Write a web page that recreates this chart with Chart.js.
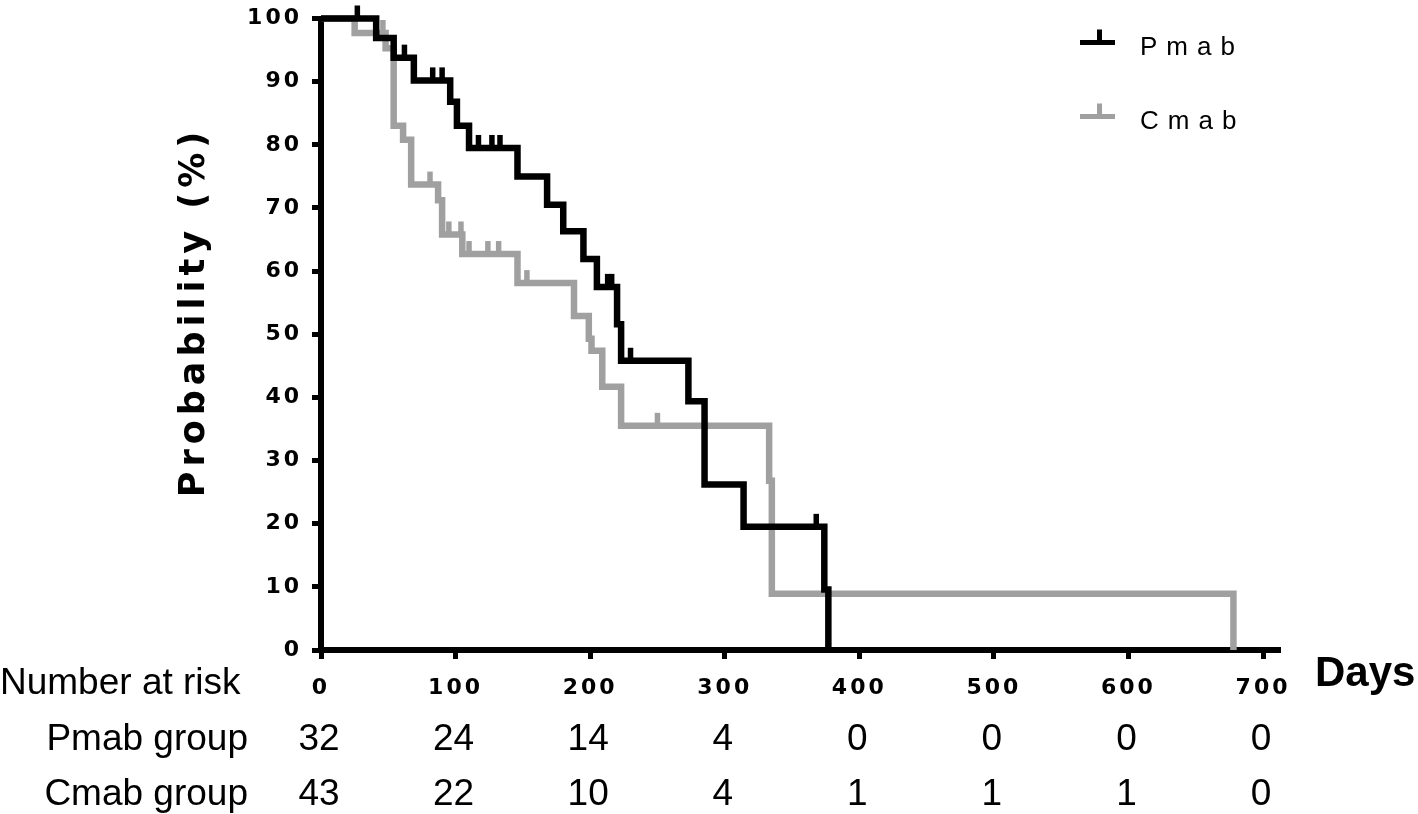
<!DOCTYPE html>
<html>
<head>
<meta charset="utf-8">
<script src="https://cdn.jsdelivr.net/npm/chart.js@4.4.1/dist/chart.umd.min.js"></script>
<style>
  html, body { margin: 0; padding: 0; background: #fff; overflow: hidden; }
  #wrap { width: 1418px; height: 814px; }
</style>
</head>
<body>
<div id="wrap"><canvas id="km" width="1418" height="814"></canvas></div>
<script>
// Pmab: ngày xảy ra bước giảm và xác suất (%) sau bước đó
const pmabDays = [0, 41, 54, 69, 96, 101, 110, 146, 168, 180, 195, 205, 220, 223, 273, 285, 314, 374, 377];
const pmabSurv = [100, 96.9, 93.8, 90.2, 86.8, 83.0, 79.5, 75.0, 70.5, 66.3, 61.9, 57.5, 51.6, 45.8, 39.4, 26.2, 19.5, 9.6, 0];
// Pmab: các điểm kiểm duyệt (censored)
const pmabCensorDays = [27, 62, 83, 90, 117, 127, 133, 213, 216, 230, 368];
const pmabCensorSurv = [100, 93.8, 90.2, 90.2, 79.5, 79.5, 79.5, 57.5, 57.5, 45.8, 19.5];

// Cmab
const cmabDays = [0, 25, 48, 54, 61, 67, 87, 90, 105, 146, 188, 199, 201, 209, 223, 333, 335, 678];
const cmabSurv = [100, 97.7, 95.3, 83.0, 80.8, 73.7, 71.2, 65.8, 62.7, 58.1, 52.9, 49.3, 47.4, 41.7, 35.5, 26.8, 8.9, 0];
const cmabCensorDays = [46, 81, 95, 104, 110, 124, 132, 153, 250];
const cmabCensorSurv = [97.7, 73.7, 65.8, 65.8, 62.7, 62.7, 62.7, 58.1, 35.5];

// Bảng số bệnh nhân còn nguy cơ
const riskDays = [0, 100, 200, 300, 400, 500, 600, 700];
const pmabRisk = [32, 24, 14, 4, 0, 0, 0, 0];
const cmabRisk = [43, 22, 10, 4, 1, 1, 1, 0];

const BLACK = "#000000";
const GREY = "#a0a0a0";

function pts(xs, ys) {
  return xs.map((x, i) => ({ x: x, y: ys[i] }));
}

function stepSet(label, xs, ys, color) {
  return {
    label, data: pts(xs, ys), borderColor: color, borderWidth: 6.5,
    stepped: true, pointRadius: 0, fill: false, clip: false,
    borderCapStyle: "butt", borderJoinStyle: "miter"
  };
}

function censorSet(label, xs, ys, color) {
  return {
    label, data: pts(xs, ys), showLine: false, clip: false,
    pointStyle: "dash", rotation: -90, pointRadius: 13,
    pointBorderColor: color, pointBorderWidth: 5.5, pointBackgroundColor: color
  };
}

// chữ vẽ thêm: tiêu đề trục, chú giải, bảng "Number at risk"
const extraText = {
  id: "extraText",
  beforeDraw(chart) {
    chart.ctx.letterSpacing = "3px";
  },
  afterDraw(chart) {
    const ctx = chart.ctx;
    const xs = chart.scales.x;
    ctx.save();
    ctx.fillStyle = "#000";

    // tiêu đề trục y
    ctx.save();
    ctx.letterSpacing = "5px";
    ctx.font = 'bold 35px "DejaVu Sans"';
    ctx.translate(195, 312);
    ctx.rotate(-Math.PI / 2);
    ctx.textAlign = "center";
    ctx.textBaseline = "middle";
    ctx.fillText("Probability (%)", 0, 0);
    ctx.restore();

    // chú giải
    const legend = [["Pmab", BLACK, 42.5, 55], ["Cmab", GREY, 116.5, 129]];
    legend.forEach(([name, color, ly, by]) => {
      ctx.strokeStyle = color;
      ctx.lineWidth = 5;
      ctx.beginPath();
      ctx.moveTo(1080, ly); ctx.lineTo(1115, ly);
      ctx.moveTo(1099.5, ly); ctx.lineTo(1099.5, ly - 13);
      ctx.stroke();
      ctx.letterSpacing = "9px";
      ctx.font = '26px "Liberation Sans"';
      ctx.textAlign = "left";
      ctx.textBaseline = "alphabetic";
      ctx.fillStyle = "#000";
      ctx.fillText(name, 1140, by);
    });

    // nhãn "Days"
    ctx.letterSpacing = "0px";
    ctx.font = 'bold 42px "Liberation Sans"';
    ctx.textAlign = "left";
    ctx.textBaseline = "alphabetic";
    ctx.fillText("Days", 1315, 686);

    // bảng
    ctx.font = '37px "Liberation Sans"';
    ctx.textBaseline = "middle";
    ctx.textAlign = "left";
    ctx.fillText("Number at risk", 0, 684);
    ctx.textAlign = "right";
    ctx.fillText("Pmab group", 248, 740);
    ctx.fillText("Cmab group", 248, 795);
    ctx.textAlign = "center";
    riskDays.forEach((d, i) => {
      const px = xs.getPixelForValue(d) - 2;
      ctx.fillText(String(pmabRisk[i]), px, 740);
      ctx.fillText(String(cmabRisk[i]), px, 795);
    });
    ctx.restore();
  }
};

const tickFont = { family: "'DejaVu Sans'", size: 22, weight: "bold" };

new Chart(document.getElementById("km"), {
  type: "line",
  data: {
    datasets: [
      stepSet("Pmab", pmabDays, pmabSurv, BLACK),
      censorSet("Pmab censored", pmabCensorDays, pmabCensorSurv, BLACK),
      stepSet("Cmab", cmabDays, cmabSurv, GREY),
      censorSet("Cmab censored", cmabCensorDays, cmabCensorSurv, GREY)
    ]
  },
  options: {
    responsive: false,
    animation: false,
    devicePixelRatio: 1,
    events: [],
    layout: { padding: { left: 0, right: 138, top: 9, bottom: 104 } },
    plugins: { legend: { display: false }, tooltip: { enabled: false } },
    scales: {
      x: {
        type: "linear", min: 0, max: 712.6,
        afterFit: (s) => { s.height = 60; s.paddingLeft = 0; s.paddingRight = 0; },
        border: { display: true, width: 6, color: "#000" },
        grid: { display: true, drawOnChartArea: false, drawTicks: true, tickLength: 9, tickWidth: 5, tickColor: "#000" },
        ticks: { stepSize: 100, includeBounds: false, color: "#000", font: tickFont, padding: 16, maxRotation: 0 }
      },
      y: {
        min: 0, max: 100,
        afterFit: (s) => { s.width = 321; s.paddingTop = 0; s.paddingBottom = 0; },
        border: { display: true, width: 6, color: "#000" },
        grid: { display: true, drawOnChartArea: false, drawTicks: true, tickLength: 9, tickWidth: 5, tickColor: "#000" },
        ticks: { stepSize: 10, color: "#000", font: tickFont, padding: 10 }
      }
    }
  },
  plugins: [extraText]
});
</script>
</body>
</html>
